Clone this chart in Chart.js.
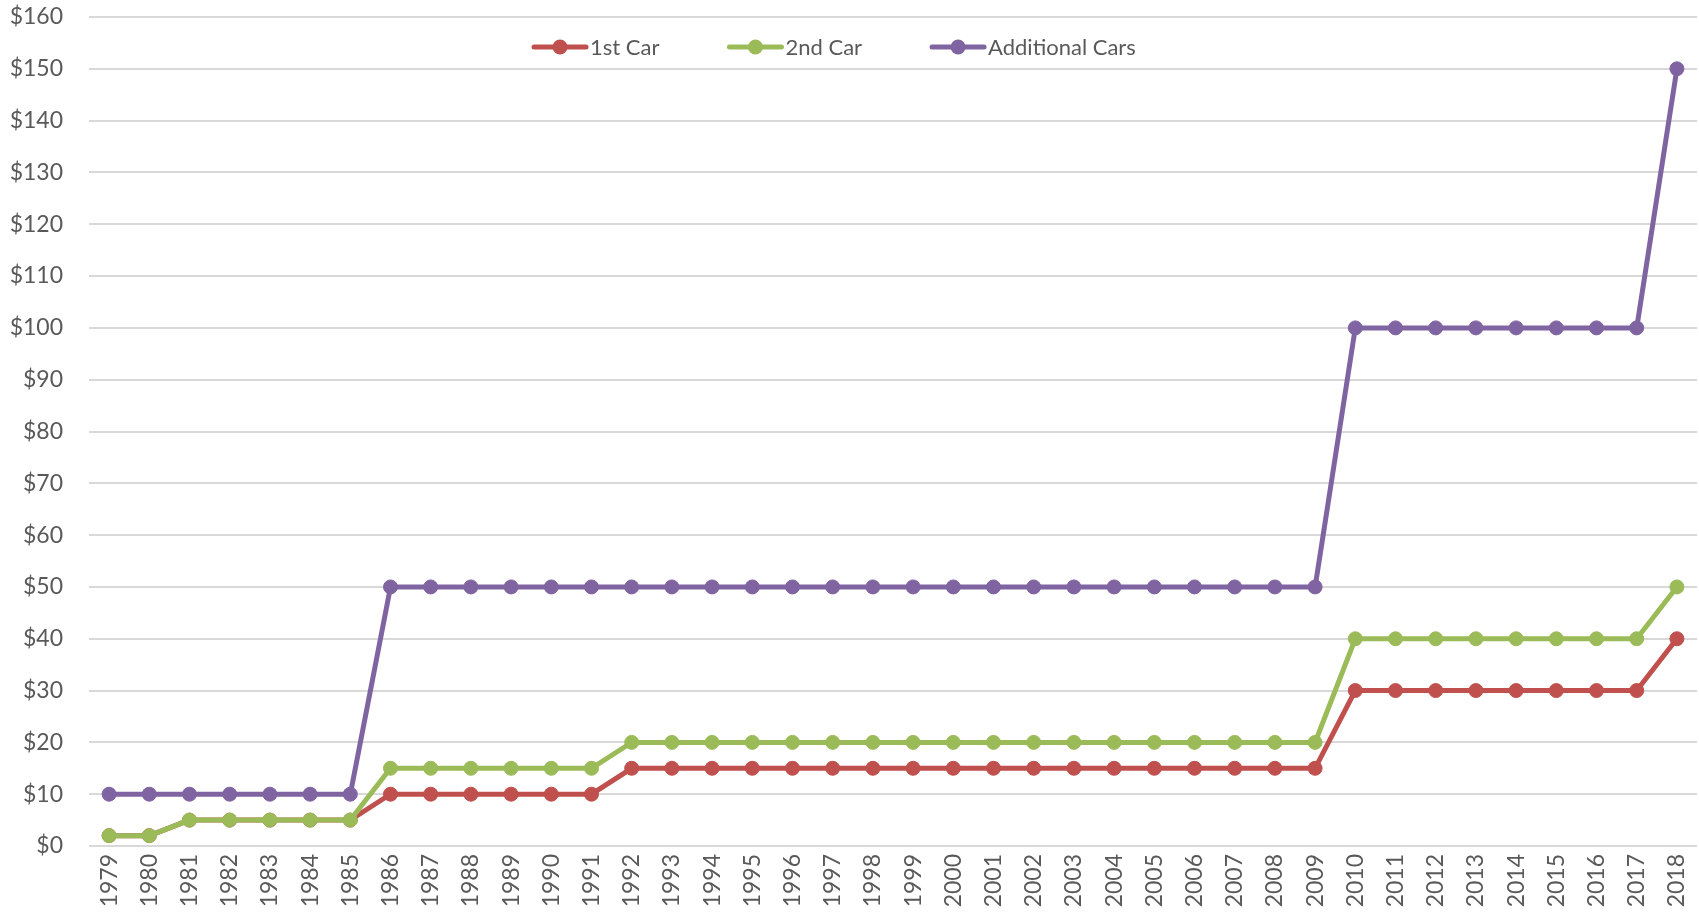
<!DOCTYPE html>
<html lang="en">
<head>
  <meta charset="UTF-8" />
  <title>Parking Permit Fees</title>
  <script src="https://cdn.jsdelivr.net/npm/chart.js"></script>
  <style>
    html, body { margin: 0; padding: 0; background: #fff; }
    #wrap { width: 1699px; height: 918px; position: relative; }
  </style>
</head>
<body>
  <div id="wrap"><canvas id="feeChart"></canvas></div>

  <script>
    // Data
    const years = [];
    for (let y = 1979; y <= 2018; y++) years.push(String(y));

    // 1979-80, 1981-85, 1986-91, 1992-2009, 2010-17, 2018
    const firstCar = [2, 2, 5, 5, 5, 5, 5, 10, 10, 10, 10, 10, 10,
                      15, 15, 15, 15, 15, 15, 15, 15, 15, 15, 15, 15, 15, 15, 15, 15, 15, 15,
                      30, 30, 30, 30, 30, 30, 30, 30, 40];
    const secondCar = [2, 2, 5, 5, 5, 5, 5, 15, 15, 15, 15, 15, 15,
                       20, 20, 20, 20, 20, 20, 20, 20, 20, 20, 20, 20, 20, 20, 20, 20, 20, 20,
                       40, 40, 40, 40, 40, 40, 40, 40, 50];
    // 1979-85, 1986-2009, 2010-17, 2018
    const additionalCars = [10, 10, 10, 10, 10, 10, 10,
                            50, 50, 50, 50, 50, 50, 50, 50, 50, 50, 50, 50,
                            50, 50, 50, 50, 50, 50, 50, 50, 50, 50, 50, 50,
                            100, 100, 100, 100, 100, 100, 100, 100, 150];

    const seriesNames = ['1st Car', '2nd Car', 'Additional Cars'];
    const seriesColors = ['#C0504D', '#9BBB59', '#8064A2'];

    const FONT = 'Lato, "Open Sans", sans-serif';
    const TEXT = '#595959';

    // Excel-style legend: line with a dot, sitting inside the plot area
    const lineLegend = {
      id: 'lineLegend',
      afterDraw(chart) {
        const ctx = chart.ctx;
        ctx.save();
        ctx.font = '22px ' + FONT;
        ctx.textBaseline = 'middle';
        ctx.textAlign = 'left';
        let x = 534;
        const y = 47;
        chart.data.datasets.forEach(ds => {
          ctx.strokeStyle = ds.borderColor;
          ctx.lineWidth = 5;
          ctx.lineCap = 'round';
          ctx.beginPath();
          ctx.moveTo(x, y);
          ctx.lineTo(x + 52, y);
          ctx.stroke();
          ctx.fillStyle = ds.borderColor;
          ctx.beginPath();
          ctx.arc(x + 26, y, 7.5, 0, Math.PI * 2);
          ctx.fill();
          ctx.fillStyle = TEXT;
          ctx.fillText(ds.label, x + 56, y + 1);
          x += 56 + ctx.measureText(ds.label).width + 70;
        });
        ctx.restore();
      }
    };

    const makeSet = (i, data, order) => ({
      label: seriesNames[i],
      data: data,
      borderColor: seriesColors[i],
      backgroundColor: seriesColors[i],
      pointBackgroundColor: seriesColors[i],
      pointBorderColor: seriesColors[i],
      borderWidth: 5,
      pointRadius: 7,
      pointBorderWidth: 1,
      tension: 0,
      order: order
    });

    new Chart(document.getElementById('feeChart').getContext('2d'), {
      type: 'line',
      data: {
        labels: years,
        datasets: [
          makeSet(0, firstCar, 3),
          makeSet(1, secondCar, 2),
          makeSet(2, additionalCars, 1)
        ]
      },
      options: {
        responsive: true,
        maintainAspectRatio: false,
        animation: false,
        layout: {
          autoPadding: false,
          padding: { top: 17, right: 2, bottom: 0, left: 0 }
        },
        plugins: {
          legend: { display: false },
          tooltip: { enabled: false }
        },
        scales: {
          x: {
            offset: true,
            grid: { display: false, drawTicks: false },
            border: { display: false },
            ticks: {
              color: TEXT,
              font: { family: FONT, size: 23 },
              minRotation: 90,
              maxRotation: 90,
              autoSkip: false,
              padding: 8
            },
            afterFit(scale) {
              scale.height = 72;
              scale.paddingLeft = 0;
              scale.paddingRight = 0;
            }
          },
          y: {
            min: 0,
            max: 160,
            grid: { color: '#d9d9d9', lineWidth: 2, drawTicks: false },
            border: { display: false },
            ticks: {
              stepSize: 10,
              color: TEXT,
              font: { family: FONT, size: 23 },
              padding: 26,
              callback: v => '$' + v
            },
            afterFit(scale) {
              scale.width = 89;
              scale.paddingTop = 0;
              scale.paddingBottom = 0;
            }
          }
        }
      },
      plugins: [lineLegend]
    });
  </script>
</body>
</html>
